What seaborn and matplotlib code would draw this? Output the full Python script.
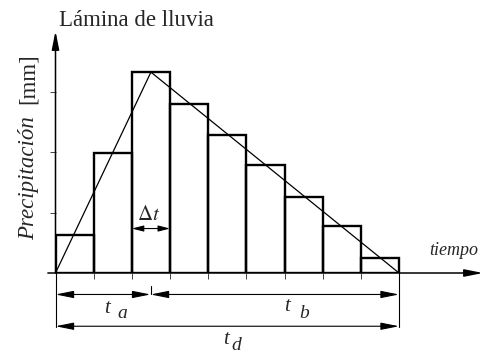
import numpy as np
import pandas as pd
import matplotlib
matplotlib.use("Agg")
import matplotlib.pyplot as plt
import seaborn as sns

# ---- data ----
interval_start = [0, 1, 2, 3, 4, 5, 6, 7, 8]
rain_depth = [0.63, 1.99, 3.32, 2.79, 2.28, 1.79, 1.26, 0.77, 0.25]
bin_edges = [0, 1, 2, 3, 4, 5, 6, 7, 8, 9]
tri_x = [0, 2.5, 9]
tri_y = [0, 3.32, 0]
y_ticks = [1, 2, 3]
t_peak = 2.5
t_end = 9

sns.set_theme(style="white")
plt.rcParams['font.family'] = ['Liberation Serif', 'DejaVu Serif']
plt.rcParams['mathtext.fontset'] = 'stix'

W, H = 484, 353
fig = plt.figure(figsize=(W / 100, H / 100), dpi=100)
ax = fig.add_axes([55.5 / W, 80 / H, 427.5 / W, 242 / H])
ax.set_xlim(0, 11.2)
ax.set_ylim(0, 4.0)

df = pd.DataFrame({"t": [s + 0.5 for s in interval_start], "p": rain_depth})
sns.histplot(data=df, x="t", weights="p", bins=bin_edges, fill=False,
             element="bars", color="black", edgecolor="black", linewidth=1.7, ax=ax)
sns.lineplot(x=tri_x, y=tri_y, sort=False, color="black", linewidth=0.9,
             ax=ax, estimator=None)

for s in ax.spines.values():
    s.set_visible(False)
ax.set_xlabel("")
ax.set_ylabel("")
ax.set_xticks(bin_edges)
ax.set_yticks(y_ticks)
ax.set_xticklabels([])
ax.set_yticklabels([])
ax.tick_params(axis="both", direction="out", length=4.3, width=0.7,
               colors="#444444", bottom=True, left=True)
ax.grid(False)

def arrow(x0, y0, x1, y1, style, lw=0.8, hl=1.1, hw=0.22):
    ax.annotate("", xy=(x1, y1), xytext=(x0, y0),
                arrowprops=dict(arrowstyle=f"{style},head_length={hl},head_width={hw}",
                                lw=lw, color="black", shrinkA=0, shrinkB=0,
                                mutation_scale=10),
                annotation_clip=False)

# axes with arrows
arrow(0, 0, 0, 4.0, "-|>", lw=1.1)
arrow(-0.2, 0, 11.2, 0, "-|>", lw=1.1)

# dimension lines
y_ab = -0.355
y_d = -0.88
ax.plot([0, 0], [0, y_d - 0.01], color="black", lw=0.8, clip_on=False)
ax.plot([t_end, t_end], [0, y_d - 0.01], color="black", lw=0.8, clip_on=False)
ax.plot([t_peak - 0.01, t_peak - 0.01], [y_ab + 0.14, y_ab], color="black", lw=0.8, clip_on=False)
arrow(0, y_ab, t_peak - 0.01, y_ab, "<|-|>")
arrow(t_peak - 0.01, y_ab, t_end, y_ab, "<|-|>")
arrow(0, y_d, t_end, y_d, "<|-|>")
# delta t
arrow(2, 0.735, 3, 0.735, "<|-|>", lw=0.8, hl=0.7, hw=0.18)

def ftext(x, y, s, **kw):
    fig.text(x / W, 1 - y / H, s, **kw)

ftext(59, 25.5, "Lámina de lluvia", fontsize=16.5, ha="left", va="baseline")
ftext(34, 240, "Precipitación", fontsize=16.5, style="italic", rotation=90,
      rotation_mode="anchor", ha="left", va="baseline")
ftext(34, 104, "[mm]", fontsize=16.5, rotation=90,
      rotation_mode="anchor", ha="left", va="baseline")
ftext(429, 255, "tiempo", fontsize=13, style="italic", ha="left", va="baseline")
ftext(137, 220, r"$\Delta t$", fontsize=15, ha="left", va="baseline")

ftext(104, 313, "t", fontsize=15, style="italic", ha="left", va="baseline")
ftext(117, 318.5, "a", fontsize=14, style="italic", ha="left", va="baseline")
ftext(284, 311, "t", fontsize=15, style="italic", ha="left", va="baseline")
ftext(299, 318.5, "b", fontsize=14, style="italic", ha="left", va="baseline")
ftext(223, 344, "t", fontsize=15, style="italic", ha="left", va="baseline")
ftext(231, 349.5, "d", fontsize=14, style="italic", ha="left", va="baseline")

fig.savefig("out.png", dpi=100)
